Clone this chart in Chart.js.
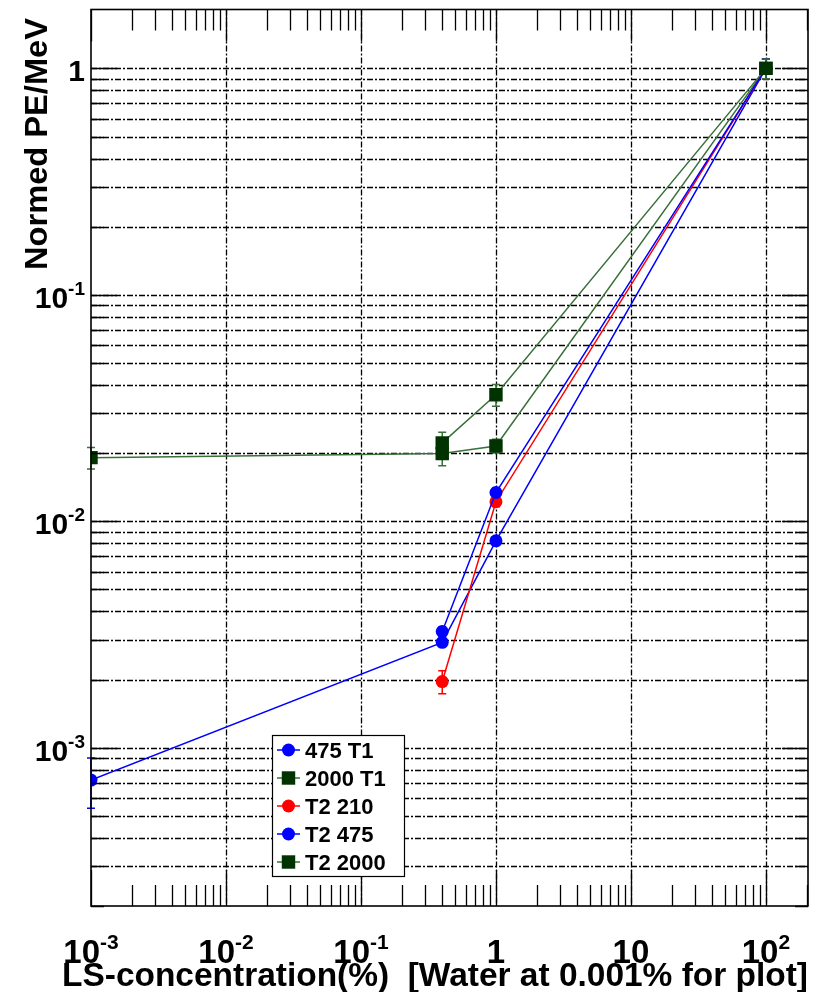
<!DOCTYPE html>
<html><head><meta charset="utf-8">
<script src="https://cdn.jsdelivr.net/npm/chart.js@4.4.0/dist/chart.umd.min.js"></script>
<style>html,body{margin:0;padding:0;background:#fff;}canvas{display:block;}</style>
</head><body>
<canvas id="c" width="827" height="992"></canvas>
<script>
// ---- data ----
const seriesNames = ['475 T1', '2000 T1', 'T2 210', 'T2 475', 'T2 2000'];
const x_475T1 = [0.001, 0.4, 1, 100];
const y_475T1 = [7.2e-4, 2.92e-3, 8.2e-3, 1.0];
const e_475T1 = [1.8e-4, 1.2e-4, 3e-4, 0.1];
const x_2000T1 = [0.001, 0.4, 1, 100];
const y_2000T1 = [1.91e-2, 1.99e-2, 2.15e-2, 1.0];
const e_2000T1 = [2.1e-3, 2.3e-3, 1.5e-3, 0.1];
const x_T2_210 = [0.4, 1, 100];
const y_T2_210 = [1.96e-3, 1.22e-2, 1.0];
const e_T2_210 = [2.3e-4, 6e-4, 0.1];
const x_T2_475 = [0.4, 1, 100];
const y_T2_475 = [3.26e-3, 1.34e-2, 1.0];
const e_T2_475 = [1.5e-4, 6e-4, 0.1];
const x_T2_2000 = [0.4, 1, 100];
const y_T2_2000 = [2.22e-2, 3.62e-2, 1.0];
const e_T2_2000 = [2.5e-3, 4e-3, 0.1];
const xTickValues = [1e-3, 1e-2, 1e-1, 1, 10, 100];
const xTickLabels = [['10', '-3'], ['10', '-2'], ['10', '-1'], ['1', ''], ['10', ''], ['10', '2']];
const yTickValues = [1e-3, 1e-2, 1e-1, 1];
const yTickLabels = [['10', '-3'], ['10', '-2'], ['10', '-1'], ['1', '']];
const xTitle = 'LS-concentration(%)  [Water at 0.001% for plot]';
const yTitle = 'Normed PE/MeV';

const FONT = "'Liberation Sans', Arial, Helvetica, sans-serif";
const BLUE = '#0000ff', RED = '#ff0000', GREENM = '#003300', GREENL = '#3a703a';

function pts(xs, ys) { return xs.map((x, i) => ({ x: x, y: ys[i] })); }
function ds(idx, xs, ys, errs, lineColor, markColor, style, r) {
  return {
    label: seriesNames[idx], data: pts(xs, ys), errs: errs, order: 10 - idx,
    showLine: true, borderColor: lineColor, borderWidth: 1.5,
    pointStyle: style, pointRadius: r, pointBackgroundColor: markColor,
    pointBorderColor: markColor, pointBorderWidth: 0, errColor: lineColor
  };
}
const datasets = [
  ds(0, x_475T1, y_475T1, e_475T1, BLUE, BLUE, 'circle', 6.5),
  ds(1, x_2000T1, y_2000T1, e_2000T1, GREENL, GREENM, 'rect', 9.5),
  ds(2, x_T2_210, y_T2_210, e_T2_210, RED, RED, 'circle', 6.5),
  ds(3, x_T2_475, y_T2_475, e_T2_475, BLUE, BLUE, 'circle', 6.5),
  ds(4, x_T2_2000, y_T2_2000, e_T2_2000, GREENL, GREENM, 'rect', 9.5)
];

function minorVals(min, max) {
  const out = [];
  for (let e = Math.floor(Math.log10(min)) - 1; e <= Math.ceil(Math.log10(max)); e++) {
    for (let k = 1; k <= 9; k++) {
      const v = k * Math.pow(10, e);
      if (v >= min * 0.9999 && v <= max * 1.0001) out.push({ v: v, major: k === 1 });
    }
  }
  return out;
}

function drawPow(ctx, base, exp, x, y, align, fb, fe, rise) {
  ctx.font = 'bold ' + fb + 'px ' + FONT;
  const wb = ctx.measureText(base).width;
  ctx.font = 'bold ' + fe + 'px ' + FONT;
  const we = exp ? ctx.measureText(exp).width : 0;
  const tot = wb + we;
  const x0 = align === 'right' ? x - tot : (align === 'center' ? x - tot / 2 : x);
  ctx.textAlign = 'left'; ctx.textBaseline = 'alphabetic';
  ctx.font = 'bold ' + fb + 'px ' + FONT;
  ctx.fillText(base, x0, y);
  if (exp) { ctx.font = 'bold ' + fe + 'px ' + FONT; ctx.fillText(exp, x0 + wb, y - rise); }
}

function drawMarker(ctx, style, color, x, y, r) {
  ctx.fillStyle = color;
  ctx.beginPath();
  if (style === 'rect') { const s = r * Math.SQRT1_2; ctx.rect(x - s, y - s, 2 * s, 2 * s); }
  else { ctx.arc(x, y, r, 0, Math.PI * 2); }
  ctx.fill();
}

const rootStyle = {
  id: 'rootStyle',
  beforeDatasetsDraw(chart) {
    const ctx = chart.ctx, a = chart.chartArea, xs = chart.scales.x, ys = chart.scales.y;
    ctx.save();
    ctx.strokeStyle = '#000'; ctx.lineWidth = 1.3;
    ctx.setLineDash([6, 2, 2, 2]);
    minorVals(ys.min, ys.max).forEach(t => {
      const p = Math.round(ys.getPixelForValue(t.v)) + 0.5;
      if (p <= a.top + 1 || p >= a.bottom - 1) return;
      ctx.beginPath(); ctx.moveTo(a.left, p); ctx.lineTo(a.right, p); ctx.stroke();
    });
    xTickValues.forEach(v => {
      const p = Math.round(xs.getPixelForValue(v)) + 0.5;
      if (p <= a.left + 1 || p >= a.right - 1) return;
      ctx.beginPath(); ctx.moveTo(p, a.top); ctx.lineTo(p, a.bottom); ctx.stroke();
    });
    ctx.setLineDash([]);
    chart.data.datasets.forEach(d => {
      ctx.strokeStyle = d.errColor; ctx.lineWidth = 1.5;
      d.data.forEach((pt, i) => {
        const e = d.errs[i];
        const px = xs.getPixelForValue(pt.x);
        const p1 = ys.getPixelForValue(pt.y + e), p2 = ys.getPixelForValue(Math.max(pt.y - e, 1e-9));
        ctx.beginPath();
        ctx.moveTo(px, p1); ctx.lineTo(px, p2);
        ctx.moveTo(px - 4, p1); ctx.lineTo(px + 4, p1);
        ctx.moveTo(px - 4, p2); ctx.lineTo(px + 4, p2);
        ctx.stroke();
      });
    });
    ctx.restore();
  },
  afterDraw(chart) {
    const ctx = chart.ctx, a = chart.chartArea, xs = chart.scales.x, ys = chart.scales.y;
    ctx.save();
    ctx.strokeStyle = '#000'; ctx.lineWidth = 1.3;
    minorVals(ys.min, ys.max).forEach(t => {
      const p = Math.round(ys.getPixelForValue(t.v)) + 0.5;
      const L = t.major ? 26 : 13;
      ctx.beginPath();
      ctx.moveTo(a.left, p); ctx.lineTo(a.left + L, p);
      ctx.moveTo(a.right, p); ctx.lineTo(a.right - L, p);
      ctx.stroke();
    });
    minorVals(xs.min, xs.max).forEach(t => {
      const p = Math.round(xs.getPixelForValue(t.v)) + 0.5;
      if (p < a.left || p > a.right) return;
      ctx.beginPath();
      ctx.moveTo(p, a.bottom); ctx.lineTo(p, a.bottom - (t.major ? 36 : 21));
      ctx.moveTo(p, a.top); ctx.lineTo(p, a.top + (t.major ? 32 : 21));
      ctx.stroke();
    });
    ctx.lineWidth = 1.6;
    ctx.strokeRect(a.left, a.top, a.right - a.left, a.bottom - a.top);
    ctx.fillStyle = '#000';
    yTickValues.forEach((v, i) => {
      const p = ys.getPixelForValue(v);
      drawPow(ctx, yTickLabels[i][0], yTickLabels[i][1], 85, p + 13, 'right', 30, 19, 13);
    });
    xTickValues.forEach((v, i) => {
      const p = xs.getPixelForValue(v);
      drawPow(ctx, xTickLabels[i][0], xTickLabels[i][1], p, 963, 'center', 33, 21, 14);
    });
    // x title, right aligned to frame
    ctx.font = 'bold 34px ' + FONT;
    const w = ctx.measureText(xTitle).width;
    ctx.save();
    ctx.translate(a.right, 986); ctx.scale(746 / w, 1);
    ctx.textAlign = 'right'; ctx.textBaseline = 'alphabetic';
    ctx.fillText(xTitle, 0, 0);
    ctx.restore();
    // y title, rotated, aligned to top
    ctx.save();
    ctx.font = 'bold 31px ' + FONT;
    const wy = ctx.measureText(yTitle).width;
    ctx.translate(47, 18); ctx.rotate(-Math.PI / 2); ctx.scale(252 / wy, 1);
    ctx.textAlign = 'right'; ctx.textBaseline = 'alphabetic';
    ctx.fillText(yTitle, 0, 0);
    ctx.restore();
    // legend
    const lx = 272, ly = 735, lw = 132, lh = 141;
    ctx.fillStyle = '#fff'; ctx.fillRect(lx, ly, lw, lh);
    ctx.strokeStyle = '#000'; ctx.lineWidth = 1.2; ctx.strokeRect(lx + 0.5, ly + 0.5, lw, lh);
    chart.data.datasets.forEach((d, i) => {
      const cy = 750 + i * 28;
      ctx.strokeStyle = d.borderColor; ctx.lineWidth = 1.5;
      ctx.beginPath(); ctx.moveTo(277, cy); ctx.lineTo(300, cy); ctx.stroke();
      drawMarker(ctx, d.pointStyle, d.pointBackgroundColor, 288.5, cy, d.pointRadius);
      ctx.fillStyle = '#000'; ctx.font = 'bold 22px ' + FONT;
      ctx.textAlign = 'left'; ctx.textBaseline = 'alphabetic';
      ctx.fillText(d.label, 305, cy + 8);
    });
    ctx.restore();
  }
};

new Chart(document.getElementById('c').getContext('2d'), {
  type: 'scatter',
  data: { datasets: datasets },
  options: {
    responsive: false, animation: false, devicePixelRatio: 1,
    layout: { padding: { left: 0, right: 19, top: 9, bottom: 0 } },
    plugins: { legend: { display: false }, tooltip: { enabled: false } },
    scales: {
      x: {
        type: 'logarithmic', min: 1e-3, max: 205, bounds: 'data',
        grid: { display: false }, border: { display: false }, ticks: { display: false },
        afterFit(s) { s.height = 86; }
      },
      y: {
        type: 'logarithmic', min: 2e-4, max: 1.82, bounds: 'data',
        grid: { display: false }, border: { display: false }, ticks: { display: false },
        afterFit(s) { s.width = 91; }
      }
    }
  },
  plugins: [rootStyle]
});
</script>
</body></html>
